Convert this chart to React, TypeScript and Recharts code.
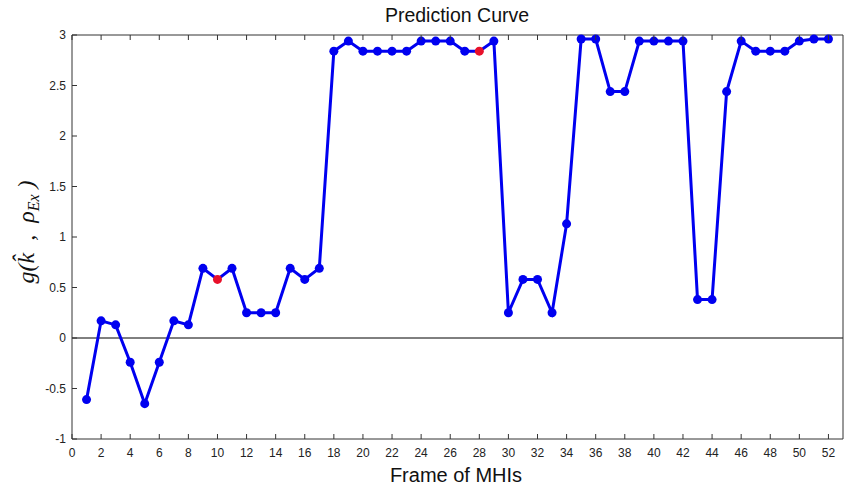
import React from "react";
import {
  LineChart,
  Line,
  XAxis,
  YAxis,
  ReferenceLine,
  Label,
} from "recharts";

// frame index of each MHI and its predicted score
const frames = [
  1, 2, 3, 4, 5, 6, 7, 8, 9, 10, 11, 12, 13, 14, 15, 16, 17, 18, 19, 20, 21, 22, 23, 24, 25, 26,
  27, 28, 29, 30, 31, 32, 33, 34, 35, 36, 37, 38, 39, 40, 41, 42, 43, 44, 45, 46, 47, 48, 49, 50, 51, 52,
];
const scores = [
  -0.61, 0.17, 0.13, -0.24, -0.65, -0.24, 0.17, 0.13, 0.69, 0.58, 0.69, 0.25, 0.25, 0.25, 0.69, 0.58,
  0.69, 2.84, 2.94, 2.84, 2.84, 2.84, 2.84, 2.94, 2.94, 2.94, 2.84, 2.84, 2.94, 0.25, 0.58, 0.58,
  0.25, 1.13, 2.96, 2.96, 2.44, 2.44, 2.94, 2.94, 2.94, 2.94, 0.38, 0.38, 2.44, 2.94, 2.84, 2.84,
  2.84, 2.94, 2.96, 2.96,
];
const highlighted = [10, 28];

const xTicks = [0, 2, 4, 6, 8, 10, 12, 14, 16, 18, 20, 22, 24, 26, 28, 30, 32, 34, 36, 38, 40, 42, 44, 46, 48, 50, 52];
const yTicks = [-1, -0.5, 0, 0.5, 1, 1.5, 2, 2.5, 3];

const data = frames.map((f, i) => ({ frame: f, score: scores[i], red: highlighted.includes(f) }));

const FONT = "'Liberation Sans', Arial, sans-serif";
const AXIS = "#333";

function BottomTick(props: any) {
  const { x, y, payload } = props;
  return (
    <g>
      <line x1={x} y1={y} x2={x} y2={y - 5} stroke={AXIS} />
      <text x={x} y={y + 18} textAnchor="middle" fontFamily={FONT} fontSize={12} fill="#222">
        {payload.value}
      </text>
    </g>
  );
}

function TopTick(props: any) {
  const { x, y } = props;
  return <line x1={x} y1={y} x2={x} y2={y + 5} stroke={AXIS} />;
}

function LeftTick(props: any) {
  const { x, y, payload } = props;
  return (
    <g>
      <line x1={x} y1={y} x2={x + 5} y2={y} stroke={AXIS} />
      <text x={x - 6} y={y + 4} textAnchor="end" fontFamily={FONT} fontSize={12} fill="#222">
        {payload.value}
      </text>
    </g>
  );
}

function RightTick(props: any) {
  const { x, y } = props;
  return <line x1={x} y1={y} x2={x - 5} y2={y} stroke={AXIS} />;
}

function renderDot(props: any) {
  const { cx, cy, payload, index } = props;
  return (
    <circle key={`dot-${index}`} cx={cx} cy={cy} r={4.5} fill={payload.red ? "#e8102a" : "#0000f0"} />
  );
}

function Title() {
  return (
    <text x={457} y={22} textAnchor="middle" fontFamily={FONT} fontSize={19.5} fill="#111">
      Prediction Curve
    </text>
  );
}

function XLabel() {
  return (
    <text x={456} y={482} textAnchor="middle" fontFamily={FONT} fontSize={20} fill="#111">
      Frame of MHIs
    </text>
  );
}

function YLabel() {
  const cx = 34;
  const cy = 232;
  return (
    <text
      x={cx}
      y={cy}
      transform={`rotate(-90 ${cx} ${cy})`}
      textAnchor="middle"
      fontFamily="'Liberation Serif', 'DejaVu Serif', serif"
      fontStyle="italic"
      fontSize={24}
      fill="#111"
      xmlSpace="preserve"
    >
      <tspan>{"g(k̂  ,  ρ"}</tspan>
      <tspan fontSize={16} dy={5}>Ex</tspan>
      <tspan dy={-5}>{" )"}</tspan>
    </text>
  );
}

export default function App() {
  return (
    <div style={{ position: "absolute", left: 0, top: 0, width: 846, height: 491, background: "#fff" }}>
      <LineChart
        width={846}
        height={491}
        data={data}
        margin={{ top: 34, right: 2, bottom: 51, left: 71 }}
      >
        <XAxis
          xAxisId="bottom"
          dataKey="frame"
          type="number"
          domain={[0, 53]}
          ticks={xTicks}
          interval={0}
          height={1}
          tickSize={0}
          tickMargin={0}
          tickLine={false}
          axisLine={{ stroke: AXIS }}
          tick={<BottomTick />}
        >
          <Label content={<XLabel />} />
        </XAxis>
        <XAxis
          xAxisId="top"
          orientation="top"
          dataKey="frame"
          type="number"
          domain={[0, 53]}
          ticks={xTicks}
          interval={0}
          height={1}
          tickSize={0}
          tickMargin={0}
          tickLine={false}
          axisLine={{ stroke: AXIS }}
          tick={<TopTick />}
        >
          <Label content={<Title />} />
        </XAxis>
        <YAxis
          yAxisId="left"
          type="number"
          domain={[-1, 3]}
          ticks={yTicks}
          interval={0}
          width={1}
          tickSize={0}
          tickMargin={0}
          tickLine={false}
          axisLine={{ stroke: AXIS }}
          tick={<LeftTick />}
        >
          <Label content={<YLabel />} />
        </YAxis>
        <YAxis
          yAxisId="right"
          orientation="right"
          type="number"
          domain={[-1, 3]}
          ticks={yTicks}
          interval={0}
          width={1}
          tickSize={0}
          tickMargin={0}
          tickLine={false}
          axisLine={{ stroke: AXIS }}
          tick={<RightTick />}
        />
        <ReferenceLine xAxisId="bottom" yAxisId="left" y={0} stroke="#000" strokeWidth={1} />
        <Line
          xAxisId="bottom"
          yAxisId="left"
          type="linear"
          dataKey="score"
          stroke="#0000f0"
          strokeWidth={3}
          dot={renderDot}
          activeDot={false}
          isAnimationActive={false}
        />
      </LineChart>
    </div>
  );
}
